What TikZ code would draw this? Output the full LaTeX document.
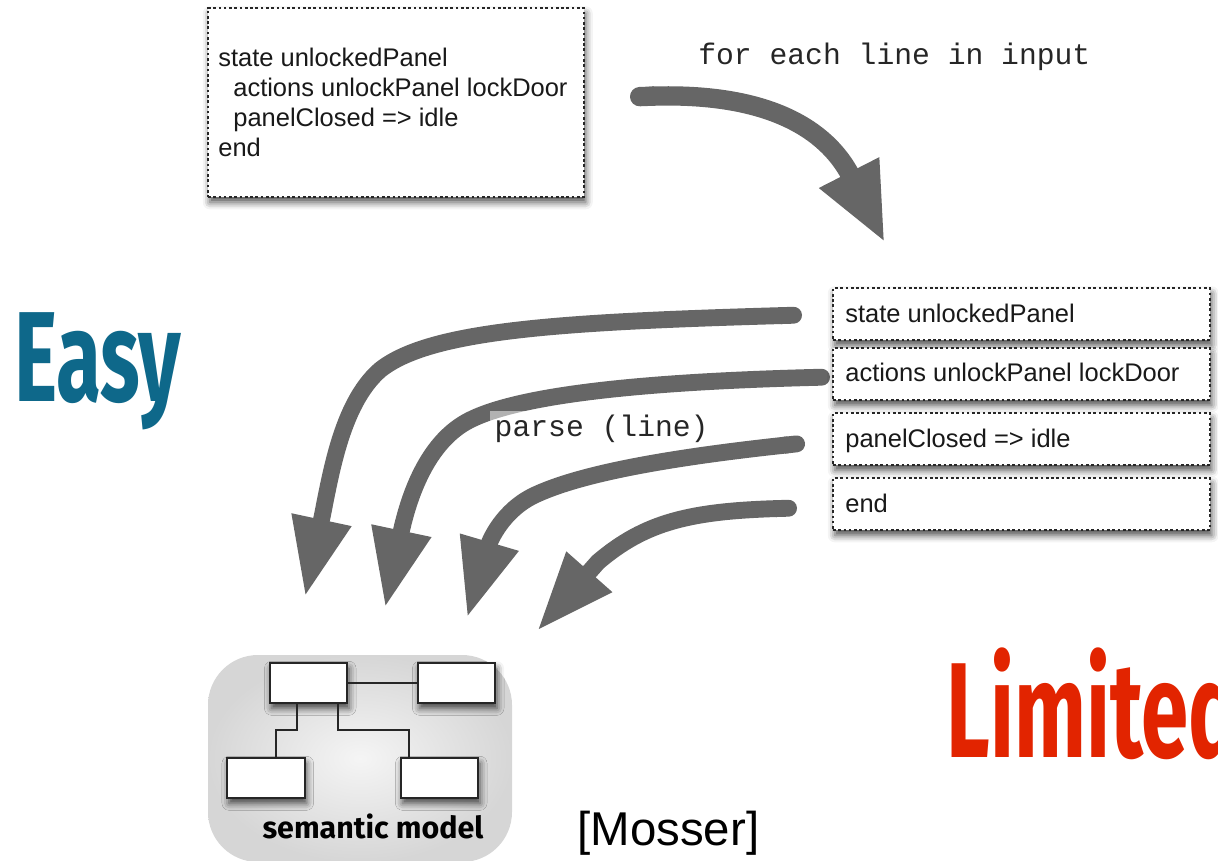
\documentclass[tikz,border=0pt]{standalone}
\usepackage{fontspec}
\setmainfont{Liberation Sans}
\newfontfamily\codefont{Liberation Mono}
\newfontfamily\headfont{Fira Sans}
\usetikzlibrary{arrows.meta,shadows.blur,calc}

\definecolor{easyblue}{RGB}{14,104,138}
\definecolor{limitred}{RGB}{226,36,0}
\definecolor{arrowgray}{RGB}{102,102,102}

\begin{document}
\begin{tikzpicture}[x=0.02cm,y=-0.02cm,
  softshadow/.style={blur shadow={shadow xshift=1pt,shadow yshift=-3pt,
      shadow blur radius=4pt,shadow opacity=70}},
  dashbox/.style={draw=black!85,line width=0.9pt,dash pattern=on 1.5pt off 1.5pt,
      fill=white,softshadow,inner sep=0pt},
  modelbox/.style={draw=black!85,line width=1.2pt,fill=white,softshadow,
      minimum width=1.55cm,minimum height=0.8cm,inner sep=0pt},
  body/.style={font=\fontsize{14.5}{17}\selectfont,inner sep=0pt,text=black!90},
  code/.style={font=\codefont\fontsize{16.9}{20}\selectfont,inner sep=0pt,text=black!85},
  shaft/.style={draw=arrowgray,line width=9.6pt,line cap=butt,
      {Round Cap[]}-{Triangle[length=45pt,width=32pt]}},
  bigshaft/.style={draw=arrowgray,line width=11pt,line cap=butt,
      {Round Cap[]}-{Triangle[length=45pt,width=35pt]}},
]
\useasboundingbox (0,0) rectangle (1218,861);
\clip (0,0) rectangle (1218,861);

% source text block
\node[dashbox,minimum width=7.52cm,minimum height=3.78cm] (src) at (396,102.5) {};
\node[body,anchor=base west] (s1) at (218,67) {state unlockedPanel};
\node[body,anchor=base west] (s2) at (233,97) {actions unlockPanel lockDoor};
\node[body,anchor=base west] (s3) at (233,127) {panelClosed => idle};
\node[body,anchor=base west] (s4) at (218,157) {end};

% iteration arrow
\coordinate (itstart) at (630,97);
\coordinate (ittip) at (885,243);
\draw[bigshaft] (itstart) .. controls (790,91) and (835,145) .. (ittip);
\node[code,anchor=base west] (foreach) at (698,65) {for each line in input};

% parse arrows towards the model
\coordinate (p1) at (802,315);
\coordinate (p2) at (830,377);
\coordinate (p3) at (805,443);
\coordinate (p4) at (797,508);
\coordinate (t1) at (305,597);
\coordinate (t2) at (385,608);
\coordinate (t3) at (467,618);
\coordinate (t4) at (537,631);
\draw[shaft] (p1) .. controls (560,322) and (430,330) .. (380,370)
  .. controls (340,405) and (330,480) .. (t1);
\draw[shaft] (p2) .. controls (640,382) and (520,395) .. (470,420)
  .. controls (430,440) and (410,490) .. (t2);
\draw[shaft] (p3) .. controls (665,458) and (580,474) .. (535,495)
  .. controls (503,510) and (490,540) .. (t3);
\draw[shaft] (p4) .. controls (690,511) and (645,522) .. (598,562) -- (t4);
\node[code,anchor=base west,fill=white,fill opacity=0.5,text opacity=1,
  inner sep=2.5pt,text depth=0pt] (parse) at (490,437) {parse (line)};

% input split into lines
\node[dashbox,minimum width=7.54cm,minimum height=1.04cm] (l1) at (1021.5,314) {};
\node[dashbox,minimum width=7.54cm,minimum height=1.04cm] (l2) at (1021.5,374) {};
\node[dashbox,minimum width=7.54cm,minimum height=1.04cm] (l3) at (1021.5,439) {};
\node[dashbox,minimum width=7.54cm,minimum height=1.04cm] (l4) at (1021.5,504) {};
\node[body,anchor=base west] (t1text) at (845,323) {state unlockedPanel};
\node[body,anchor=base west] (t2text) at (845,382) {actions unlockPanel lockDoor};
\node[body,anchor=base west] (t3text) at (845,448) {panelClosed => idle};
\node[body,anchor=base west] (t4text) at (845,513) {end};

% semantic model picture
\shade[inner color=black!4,outer color=black!16,rounded corners=1cm]
  (208,655) rectangle (512,862);
\node[modelbox] (ma) at (308.5,683) {};
\node[modelbox] (mb) at (456.5,683) {};
\node[modelbox] (mc) at (266,778) {};
\node[modelbox] (md) at (439.5,778) {};
\draw[black!85,line width=1.2pt] (ma.east) -- (mb.west);
\draw[black!85,line width=1.2pt] ([xshift=0.56cm]ma.south west) -- ++(0,26) -| ([xshift=1.0cm]mc.north west);
\draw[black!85,line width=1.2pt] ([xshift=1.38cm]ma.south west) -- ++(0,26) -| ([xshift=0.18cm]md.north west);
\node[anchor=base,inner sep=0pt,font=\headfont\bfseries\fontsize{17.3}{19}\selectfont]
  (modellabel) at (373,838) {semantic model};

% captions
\node[anchor=base west,inner sep=0pt,text=easyblue] (easy) at (14,402)
  {\scalebox{0.64}[1]{\headfont\bfseries\fontsize{73}{80}\selectfont Easy}};
\node[anchor=base west,inner sep=0pt,text=limitred] (limited) at (946,757)
  {\scalebox{0.63}[1]{\headfont\bfseries\fontsize{77}{84}\selectfont Limited}};
\node[anchor=base west,inner sep=0pt,font=\fontsize{27}{32}\selectfont] (cite) at (577,845) {[Mosser]};
\end{tikzpicture}
\end{document}
